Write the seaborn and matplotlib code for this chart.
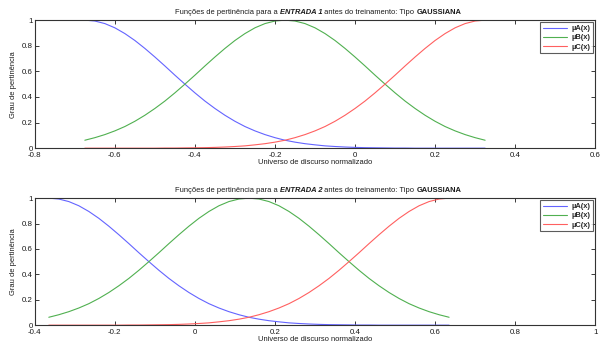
import numpy as np
import pandas as pd
import matplotlib
matplotlib.use("Agg")
import matplotlib.pyplot as plt
import seaborn as sns

# pontos (x e graus de pertinencia)
x1 = [-0.675, -0.65, -0.625, -0.6, -0.575, -0.55, -0.525, -0.5, -0.475, -0.45,
      -0.425, -0.4, -0.375, -0.35, -0.325, -0.3, -0.275, -0.25, -0.225, -0.2,
      -0.175, -0.15, -0.125, -0.1, -0.075, -0.05, -0.025, 0.0, 0.025, 0.05,
      0.075, 0.1, 0.125, 0.15, 0.175, 0.2, 0.225, 0.25, 0.275, 0.3, 0.325]
x2 = [-0.365, -0.34, -0.315, -0.29, -0.265, -0.24, -0.215, -0.19, -0.165, -0.14,
      -0.115, -0.09, -0.065, -0.04, -0.015, 0.01, 0.035, 0.06, 0.085, 0.11,
      0.135, 0.16, 0.185, 0.21, 0.235, 0.26, 0.285, 0.31, 0.335, 0.36,
      0.385, 0.41, 0.435, 0.46, 0.485, 0.51, 0.535, 0.56, 0.585, 0.61, 0.635]

muA = [1.0, 0.993, 0.973, 0.940, 0.895, 0.841, 0.779, 0.712, 0.642, 0.570,
       0.500, 0.432, 0.368, 0.310, 0.257, 0.210, 0.169, 0.135, 0.106, 0.082,
       0.062, 0.047, 0.035, 0.026, 0.018, 0.013, 0.009, 0.006, 0.004, 0.003,
       0.002, 0.001, 0.001, 0.0, 0.0, 0.0, 0.0, 0.0, 0.0, 0.0, 0.0]
muB = [0.062, 0.082, 0.106, 0.135, 0.169, 0.210, 0.257, 0.310, 0.368, 0.432,
       0.500, 0.570, 0.642, 0.712, 0.779, 0.841, 0.895, 0.940, 0.973, 0.993,
       1.0, 0.993, 0.973, 0.940, 0.895, 0.841, 0.779, 0.712, 0.642, 0.570,
       0.500, 0.432, 0.368, 0.310, 0.257, 0.210, 0.169, 0.135, 0.106, 0.082, 0.062]
muC = [0.0, 0.0, 0.0, 0.0, 0.0, 0.0, 0.0, 0.0, 0.001, 0.001,
       0.002, 0.003, 0.004, 0.006, 0.009, 0.013, 0.018, 0.026, 0.035, 0.047,
       0.062, 0.082, 0.106, 0.135, 0.169, 0.210, 0.257, 0.310, 0.368, 0.432,
       0.500, 0.570, 0.642, 0.712, 0.779, 0.841, 0.895, 0.940, 0.973, 0.993, 1.0]

labels = ["µA(x)", "µB(x)", "µC(x)"]
cores = ["#6464ff", "#50b050", "#ff6060"]

xticks1 = [-0.8, -0.6, -0.4, -0.2, 0, 0.2, 0.4, 0.6]
xticks2 = [-0.4, -0.2, 0, 0.2, 0.4, 0.6, 0.8, 1]
yticks = [0, 0.2, 0.4, 0.6, 0.8, 1]

sns.set_style("white")
plt.rcParams['font.family'] = ['Liberation Sans', 'DejaVu Sans']

fig = plt.figure(figsize=(6, 3.47), dpi=100)
ax1 = fig.add_axes([0.058, 0.573, 0.934, 0.369])
ax2 = fig.add_axes([0.058, 0.063, 0.934, 0.366])

fs = 5.4
txt = "#1a1a1a"


def desenha(ax, x, entrada, xticks):
    for mu, lab, cor in zip([muA, muB, muC], labels, cores):
        sns.lineplot(x=x, y=mu, color=cor, ax=ax, linewidth=0.8, sort=False,
                     label=lab, legend=False)
    ax.set_xlim(xticks[0], xticks[-1])
    ax.set_ylim(0, 1)
    ax.set_xticks(xticks)
    ax.set_xticklabels(["%g" % v for v in xticks])
    ax.set_yticks(yticks)
    ax.set_yticklabels(["%g" % v for v in yticks])
    ax.tick_params(direction="in", length=3, width=0.6, labelsize=fs + 0.3, pad=1.5,
                   top=True, right=True, bottom=True, left=True, colors=txt)
    ax.tick_params(axis="x", pad=3)
    for s in ax.spines.values():
        s.set_color("#333333")
        s.set_linewidth(0.8)
    ax.set_xlabel("Universo de discurso normalizado", fontsize=fs, labelpad=0, color=txt)
    ax.set_ylabel("Grau de pertinência", fontsize=fs, labelpad=3.5, color=txt)
    leg = ax.legend(handles=ax.get_lines()[:3], labels=labels, loc="upper right",
                    fontsize=fs, frameon=True, fancybox=False,
                    handlelength=3.2, borderpad=0.35, labelspacing=0.25,
                    handletextpad=0.6, borderaxespad=0.3)
    leg.get_frame().set_edgecolor("#333333")
    leg.get_frame().set_linewidth(0.8)
    for t in leg.get_texts():
        t.set_fontweight("bold")
    # titulo em partes (negrito/italico)
    t = ax.text(0.25, 1.035, "Funções de pertinência para a ", transform=ax.transAxes,
                fontsize=fs, ha="left", va="bottom", color=txt)
    t = ax.annotate("ENTRADA %d" % entrada, xy=(1, 0), xycoords=t, fontsize=fs,
                    fontweight="bold", fontstyle="italic", va="bottom", color=txt)
    t = ax.annotate(" antes do treinamento: Tipo ", xy=(1, 0), xycoords=t, fontsize=fs,
                    va="bottom", color=txt)
    ax.annotate("GAUSSIANA", xy=(1, 0), xycoords=t, fontsize=fs,
                fontweight="bold", va="bottom", color=txt)


desenha(ax1, x1, 1, xticks1)
desenha(ax2, x2, 2, xticks2)

fig.savefig("out.png", dpi=100)
